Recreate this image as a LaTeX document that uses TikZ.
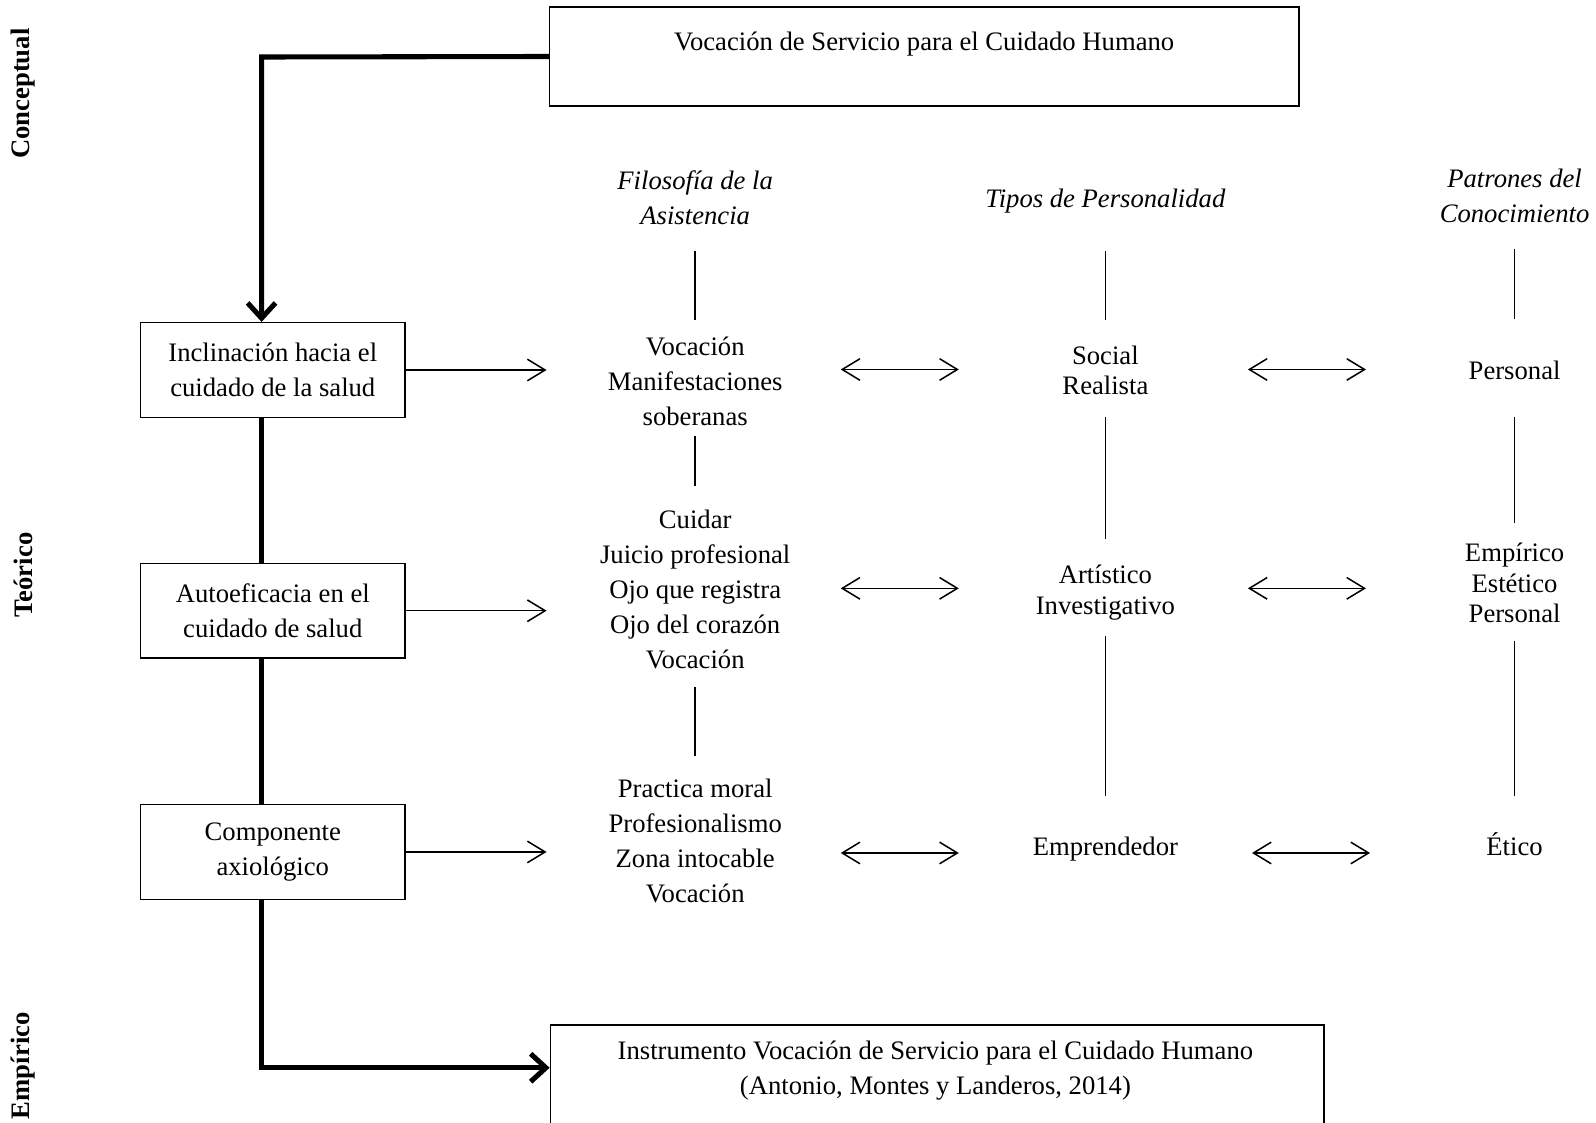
\documentclass[tikz,border=0pt]{standalone}
\usepackage{fontspec}
\setmainfont{Liberation Serif}
\usetikzlibrary{arrows.meta}
\tikzset{
 txt/.style={align=center,font=\fontsize{10.5}{13.8}\selectfont},
 apretado/.style={align=center,font=\fontsize{10.5}{12}\selectfont},
 cabeza/.style={align=center,font=\fontsize{10.5}{13.8}\selectfont\itshape},
 nivel/.style={rotate=90,font=\fontsize{10.5}{13.8}\selectfont\bfseries},
 caja/.style={draw,line width=.6pt,minimum width=36.6mm,minimum height=13.1mm,inner sep=0pt},
 eje/.style={line width=2pt},
 punta/.style={-{Straight Barb[length=6pt,width=11pt]}},
 flecha/.style={line width=.6pt,-{Straight Barb[length=7pt,width=8.5pt]}},
 doble/.style={line width=.6pt,{Straight Barb[length=7pt,width=8.5pt]}-{Straight Barb[length=7pt,width=8.5pt]}},
 raya/.style={line width=.6pt},
}
\begin{document}
\begin{tikzpicture}[xscale=.1409,yscale=-.1409]
 \useasboundingbox (0,0) rectangle (156.8,110.3);
 \path
 (2.3,9.2) node[nivel] (nc) {Conceptual}
 (2.3,56.5) node[nivel] (nt) {Teórico}
 (2.3,104.7) node[nivel] (ne) {Empírico};
 % <<< cajas
 \node[caja,minimum width=103.7mm,minimum height=13.67mm] (vs) at (90.8,5.55) {};
 \node[txt] (vst) at (90.8,4.3) {Vocación de Servicio para el Cuidado Humano};
 \node[caja,txt] (inc) at (26.8,36.35) {Inclinación hacia el\\cuidado de la salud};
 \node[caja,txt] (aut) at (26.8,60.0) {Autoeficacia en el\\cuidado de salud};
 \node[caja,txt] (axi) at (26.8,83.7) {Componente\\axiológico};
 \node[caja,anchor=north west,minimum width=107.1mm,minimum height=20mm] (ins) at (54,100.6) {};
 \node[txt] (inst) at (91.9,105.15) {Instrumento Vocación de Servicio para el Cuidado Humano\\(Antonio, Montes y Landeros, 2014)};
 % <<< columna 1
 \path
 (68.3,19.4) node[cabeza] (fil) {Filosofía de la\\Asistencia}
 (68.3,37.5) node[txt] (f1) {Vocación\\Manifestaciones\\soberanas}
 (68.3,57.95) node[txt] (f2) {Cuidar\\Juicio profesional\\Ojo que registra\\Ojo del corazón\\Vocación}
 (68.3,82.6) node[txt] (f3) {Practica moral\\Profesionalismo\\Zona intocable\\Vocación};
 % <<< columna 2
 \path
 (108.6,19.8) node[cabeza] (tip) {Tipos de Personalidad}
 (108.6,36.4) node[apretado] (t1) {Social\\Realista}
 (108.6,58.2) node[apretado] (t2) {Artístico\\Investigativo}
 (108.6,83.4) node[txt] (t3) {Emprendedor};
 % <<< columna 3
 \path
 (148.8,19.2) node[cabeza] (pat) {Patrones del\\Conocimiento}
 (148.8,36.4) node[txt] (p1) {Personal}
 (148.8,57.3) node[apretado] (p2) {Empírico\\Estético\\Personal}
 (148.8,82.9) node[txt] (p3) {Ético};
 % <<< eje grueso
 \coordinate (s0) at (25.7,5.6);
 \coordinate (s1) at (54,104.9);
 \draw[eje,punta] (vs.west) -- (s0) -- (s0 |- inc.north);
 \draw[eje] (inc.south -| s0) -- (aut.north -| s0) (aut.south -| s0) -- (axi.north -| s0);
 \draw[eje,punta] (axi.south -| s0) |- (s1);
 % <<< flechas simples
 \coordinate (fin) at (53.7,0);
 \draw[flecha] (inc.east) -- (inc.east -| fin);
 \draw[flecha] (aut.east) -- (aut.east -| fin);
 \draw[flecha] (axi.east) -- (axi.east -| fin);
 % <<< rayas verticales
 \foreach \i/\x/\a/\b in {1/68.3/24.7/31.4,2/68.3/42.8/47.7,3/68.3/67.5/74.3,
 4/108.6/24.7/31.4,5/108.6/41.0/53.0,6/108.6/62.5/78.2,
 7/148.8/24.5/31.3,8/148.8/41.0/51.4,9/148.8/63.0/78.2}
 \draw[raya] (\x,\a) coordinate (r\i a) -- (\x,\b) coordinate (r\i b);
 % <<< flechas dobles
 \foreach \i/\a/\b/\y in {1/82.6/94.2/36.3,2/82.6/94.2/57.8,3/82.6/94.2/83.8,
 4/122.6/134.2/36.3,5/122.6/134.2/57.8,6/123.0/134.6/83.8}
 \draw[doble] (\a,\y) coordinate (d\i a) -- (\b,\y) coordinate (d\i b);
\end{tikzpicture}
\end{document}
